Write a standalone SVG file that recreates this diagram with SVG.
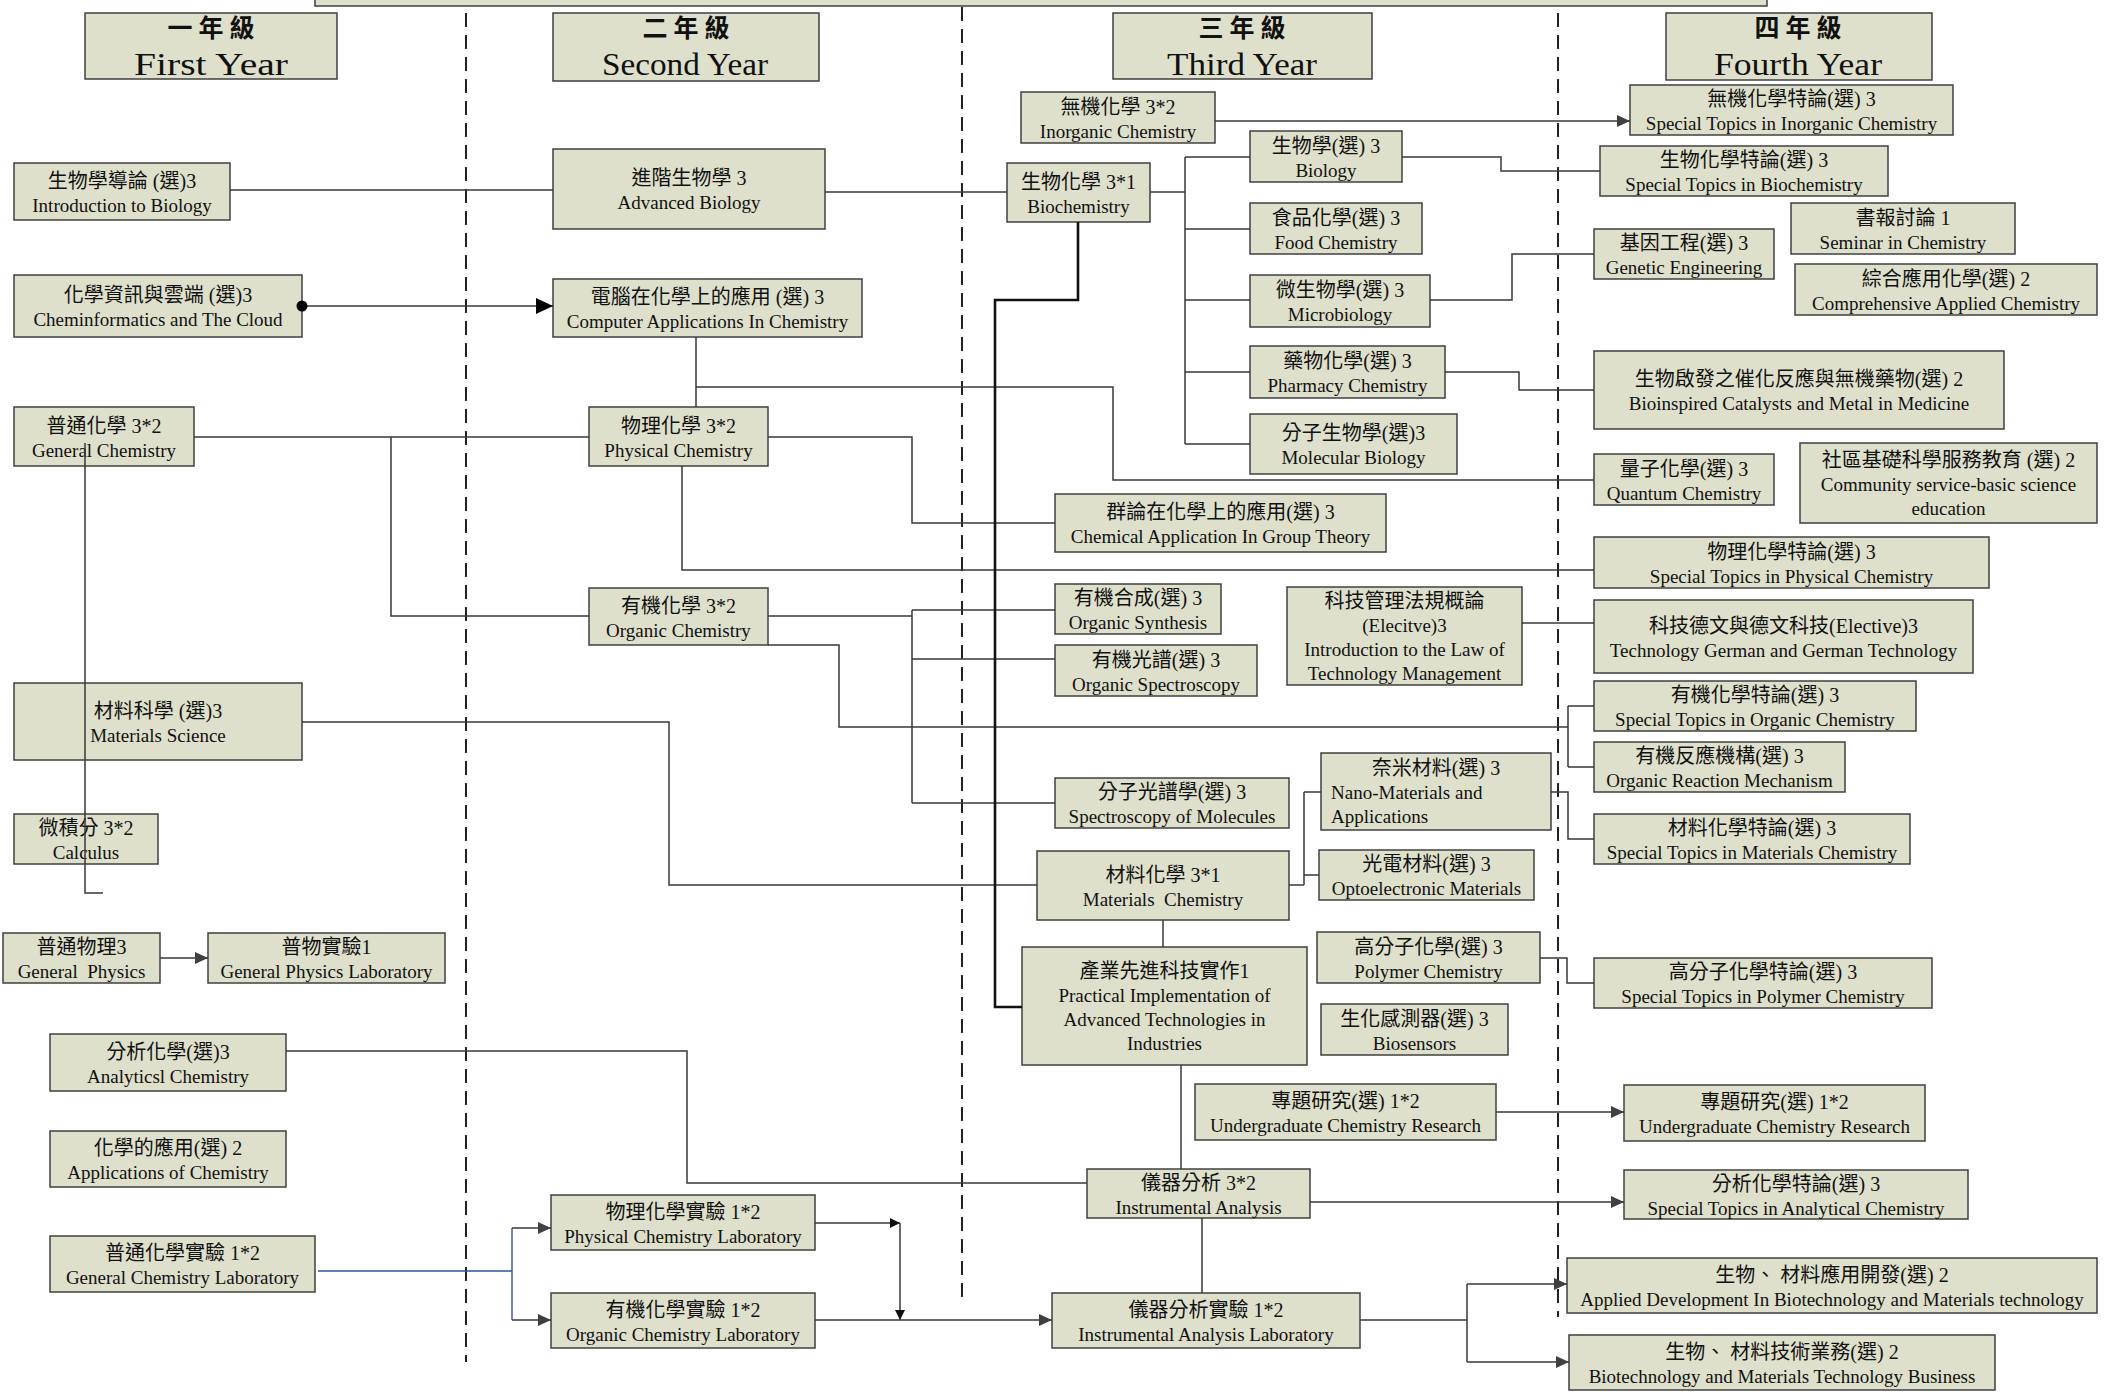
<svg xmlns="http://www.w3.org/2000/svg" width="2112" height="1399" viewBox="0 0 2112 1399">
<style>
.box{fill:#DEE0CC;stroke:#404040;stroke-width:1.5}
.c{font-family:"Liberation Serif","Noto Sans CJK TC",serif;font-size:20px;text-anchor:middle;fill:#111}
.e{font-family:"Liberation Serif","Noto Sans CJK TC",serif;font-size:19px;text-anchor:middle;fill:#111}
.el{font-family:"Liberation Serif",serif;font-size:19px;fill:#111}
.hc{font-family:"Noto Sans CJK TC",sans-serif;font-size:25px;font-weight:700;letter-spacing:6px;text-anchor:middle;fill:#111}
.he{font-family:"Liberation Serif",serif;font-size:32px;text-anchor:middle;fill:#111}
.w{stroke:#383838;stroke-width:1.5;fill:none}
.thick{stroke:#111;stroke-width:2.6;fill:none}
.blue{stroke:#2F5597;stroke-width:1.4;fill:none}
.dash{stroke:#222;stroke-width:2;stroke-dasharray:14 8;fill:none}
</style>
<defs>
<marker id="ah" markerUnits="userSpaceOnUse" markerWidth="14" markerHeight="12" refX="13" refY="6" orient="auto"><path d="M0,0 L13,6 L0,12 z" fill="#404040"/></marker>
<marker id="ahb" markerUnits="userSpaceOnUse" markerWidth="18" markerHeight="16" refX="17" refY="8" orient="auto"><path d="M0,0 L17,8 L0,16 z" fill="#000"/></marker>
<marker id="ahs" markerUnits="userSpaceOnUse" markerWidth="11" markerHeight="10" refX="10" refY="5" orient="auto"><path d="M0,0 L10,5 L0,10 z" fill="#111"/></marker>
<marker id="dot" markerUnits="userSpaceOnUse" markerWidth="12" markerHeight="12" refX="6" refY="6" orient="auto"><circle cx="6" cy="6" r="5.5" fill="#000"/></marker>
</defs>
<rect width="2112" height="1399" fill="#fff"/>
<rect class="box" x="315" y="-20" width="1452" height="26"/>
<g id="dividers">
<path class="dash" d="M466,13 V1362"/>
<path class="dash" d="M962,7 V1297"/>
<path class="dash" d="M1558,13 V1317"/>
</g>
<g id="nodes">
<g id="hdr1"><rect class="box" x="85" y="13" width="252" height="66"/><text class="hc" x="214" y="37">一年級</text><text class="he" x="211" y="75" textLength="154" lengthAdjust="spacingAndGlyphs">First Year</text></g>
<g id="hdr2"><rect class="box" x="553" y="13" width="266" height="68"/><text class="hc" x="689" y="37">二年級</text><text class="he" x="685" y="75" textLength="166" lengthAdjust="spacingAndGlyphs">Second Year</text></g>
<g id="hdr3"><rect class="box" x="1113" y="13" width="259" height="66"/><text class="hc" x="1245" y="37">三年級</text><text class="he" x="1242" y="75" textLength="150" lengthAdjust="spacingAndGlyphs">Third Year</text></g>
<g id="hdr4"><rect class="box" x="1666" y="13" width="266" height="67"/><text class="hc" x="1801" y="37">四年級</text><text class="he" x="1798" y="75" textLength="168" lengthAdjust="spacingAndGlyphs">Fourth Year</text></g>

<g id="introbio"><rect class="box" x="14" y="163" width="216" height="57"/><text class="c" x="122" y="187.5">生物學導論 (選)3</text><text class="e" x="122" y="211.5">Introduction to Biology</text></g>
<g id="cheminf"><rect class="box" x="14" y="275" width="288" height="62"/><text class="c" x="158" y="302">化學資訊與雲端 (選)3</text><text class="e" x="158" y="326">Cheminformatics and The Cloud</text></g>
<g id="genchem"><rect class="box" x="14" y="407" width="180" height="59"/><text class="c" x="104" y="432.5">普通化學 3*2</text><text class="e" x="104" y="456.5">General Chemistry</text></g>
<g id="matsci"><rect class="box" x="14" y="683" width="288" height="77"/><text class="c" x="158" y="717.5">材料科學 (選)3</text><text class="e" x="158" y="741.5">Materials Science</text></g>
<g id="calc"><rect class="box" x="14" y="814" width="144" height="50"/><text class="c" x="86" y="835">微積分 3*2</text><text class="e" x="86" y="859">Calculus</text></g>
<g id="genphys"><rect class="box" x="3" y="933" width="157" height="50"/><text class="c" x="81.5" y="954">普通物理3</text><text class="e" x="81.5" y="978">General&#160; Physics</text></g>
<g id="genphyslab"><rect class="box" x="208" y="933" width="237" height="50"/><text class="c" x="326.5" y="954">普物實驗1</text><text class="e" x="326.5" y="978">General Physics Laboratory</text></g>
<g id="anal"><rect class="box" x="50" y="1034" width="236" height="57"/><text class="c" x="168" y="1058.5">分析化學(選)3</text><text class="e" x="168" y="1082.5">Analyticsl Chemistry</text></g>
<g id="appchem"><rect class="box" x="50" y="1131" width="236" height="56"/><text class="c" x="168" y="1155">化學的應用(選) 2</text><text class="e" x="168" y="1179">Applications of Chemistry</text></g>
<g id="genchemlab"><rect class="box" x="50" y="1236" width="265" height="56"/><text class="c" x="182.5" y="1260">普通化學實驗 1*2</text><text class="e" x="182.5" y="1284">General Chemistry Laboratory</text></g>

<g id="advbio"><rect class="box" x="553" y="149" width="272" height="80"/><text class="c" x="689" y="185">進階生物學 3</text><text class="e" x="689" y="209">Advanced Biology</text></g>
<g id="compapp"><rect class="box" x="553" y="279" width="309" height="58"/><text class="c" x="707.5" y="304">電腦在化學上的應用 (選) 3</text><text class="e" x="707.5" y="328">Computer Applications In Chemistry</text></g>
<g id="physchem"><rect class="box" x="589" y="407" width="179" height="59"/><text class="c" x="678.5" y="432.5">物理化學 3*2</text><text class="e" x="678.5" y="456.5">Physical Chemistry</text></g>
<g id="orgchem"><rect class="box" x="589" y="588" width="179" height="57"/><text class="c" x="678.5" y="612.5">有機化學 3*2</text><text class="e" x="678.5" y="636.5">Organic Chemistry</text></g>
<g id="physlab"><rect class="box" x="551" y="1195" width="264" height="55"/><text class="c" x="683" y="1218.5">物理化學實驗 1*2</text><text class="e" x="683" y="1242.5">Physical Chemistry Laboratory</text></g>
<g id="orglab"><rect class="box" x="551" y="1293" width="264" height="55"/><text class="c" x="683" y="1316.5">有機化學實驗 1*2</text><text class="e" x="683" y="1340.5">Organic Chemistry Laboratory</text></g>

<g id="inorg"><rect class="box" x="1021" y="92" width="194" height="51"/><text class="c" x="1118" y="113.5">無機化學 3*2</text><text class="e" x="1118" y="137.5">Inorganic Chemistry</text></g>
<g id="biochem"><rect class="box" x="1007" y="163" width="143" height="59"/><text class="c" x="1078.5" y="188.5">生物化學 3*1</text><text class="e" x="1078.5" y="212.5">Biochemistry</text></g>
<g id="biology"><rect class="box" x="1250" y="131" width="152" height="51"/><text class="c" x="1326" y="152.5">生物學(選) 3</text><text class="e" x="1326" y="176.5">Biology</text></g>
<g id="food"><rect class="box" x="1250" y="203" width="172" height="51"/><text class="c" x="1336" y="224.5">食品化學(選) 3</text><text class="e" x="1336" y="248.5">Food Chemistry</text></g>
<g id="micro"><rect class="box" x="1250" y="275" width="180" height="52"/><text class="c" x="1340" y="297">微生物學(選) 3</text><text class="e" x="1340" y="321">Microbiology</text></g>
<g id="pharm"><rect class="box" x="1250" y="346" width="195" height="52"/><text class="c" x="1347.5" y="368">藥物化學(選) 3</text><text class="e" x="1347.5" y="392">Pharmacy Chemistry</text></g>
<g id="molbio"><rect class="box" x="1250" y="414" width="207" height="60"/><text class="c" x="1353.5" y="440">分子生物學(選)3</text><text class="e" x="1353.5" y="464">Molecular Biology</text></g>
<g id="group"><rect class="box" x="1055" y="494" width="331" height="58"/><text class="c" x="1220.5" y="519">群論在化學上的應用(選) 3</text><text class="e" x="1220.5" y="543">Chemical Application In Group Theory</text></g>
<g id="orgsyn"><rect class="box" x="1055" y="584" width="166" height="50"/><text class="c" x="1138" y="605">有機合成(選) 3</text><text class="e" x="1138" y="629">Organic Synthesis</text></g>
<g id="orgspec"><rect class="box" x="1055" y="645" width="202" height="51"/><text class="c" x="1156" y="666.5">有機光譜(選) 3</text><text class="e" x="1156" y="690.5">Organic Spectroscopy</text></g>
<g id="lawtech"><rect class="box" x="1287" y="587" width="235" height="98"/><text class="c" x="1404.5" y="608">科技管理法規概論</text><text class="e" x="1404.5" y="632">(Elecitve)3</text><text class="e" x="1404.5" y="656">Introduction to the Law of</text><text class="e" x="1404.5" y="680">Technology Management</text></g>
<g id="specmol"><rect class="box" x="1055" y="778" width="234" height="50"/><text class="c" x="1172" y="799">分子光譜學(選) 3</text><text class="e" x="1172" y="823">Spectroscopy of Molecules</text></g>
<g id="nano"><rect class="box" x="1321" y="753" width="230" height="77"/><text class="c" x="1436" y="775">奈米材料(選) 3</text><text class="el" x="1331" y="799">Nano-Materials and</text><text class="el" x="1331" y="823">Applications</text></g>
<g id="opto"><rect class="box" x="1319" y="850" width="215" height="50"/><text class="c" x="1426.5" y="871">光電材料(選) 3</text><text class="e" x="1426.5" y="895">Optoelectronic Materials</text></g>
<g id="matchem"><rect class="box" x="1037" y="851" width="252" height="69"/><text class="c" x="1163" y="881.5">材料化學 3*1</text><text class="e" x="1163" y="905.5">Materials&#160; Chemistry</text></g>
<g id="practical"><rect class="box" x="1022" y="947" width="285" height="118"/><text class="c" x="1164.5" y="978">產業先進科技實作1</text><text class="e" x="1164.5" y="1002">Practical Implementation of</text><text class="e" x="1164.5" y="1026">Advanced Technologies in</text><text class="e" x="1164.5" y="1050">Industries</text></g>
<g id="polymer"><rect class="box" x="1317" y="932" width="223" height="51"/><text class="c" x="1428.5" y="953.5">高分子化學(選) 3</text><text class="e" x="1428.5" y="977.5">Polymer Chemistry</text></g>
<g id="biosens"><rect class="box" x="1321" y="1004" width="187" height="51"/><text class="c" x="1414.5" y="1025.5">生化感測器(選) 3</text><text class="e" x="1414.5" y="1049.5">Biosensors</text></g>
<g id="ugr3"><rect class="box" x="1195" y="1084" width="301" height="56"/><text class="c" x="1345.5" y="1108">專題研究(選) 1*2</text><text class="e" x="1345.5" y="1132">Undergraduate Chemistry Research</text></g>
<g id="instr"><rect class="box" x="1087" y="1169" width="223" height="49"/><text class="c" x="1198.5" y="1189.5">儀器分析 3*2</text><text class="e" x="1198.5" y="1213.5">Instrumental Analysis</text></g>
<g id="instrlab"><rect class="box" x="1052" y="1293" width="308" height="55"/><text class="c" x="1206" y="1316.5">儀器分析實驗 1*2</text><text class="e" x="1206" y="1340.5">Instrumental Analysis Laboratory</text></g>

<g id="spinorg"><rect class="box" x="1630" y="85" width="323" height="50"/><text class="c" x="1791.5" y="106">無機化學特論(選) 3</text><text class="e" x="1791.5" y="130">Special Topics in Inorganic Chemistry</text></g>
<g id="spbio"><rect class="box" x="1600" y="146" width="288" height="50"/><text class="c" x="1744" y="167">生物化學特論(選) 3</text><text class="e" x="1744" y="191">Special Topics in Biochemistry</text></g>
<g id="seminar"><rect class="box" x="1791" y="203" width="224" height="51"/><text class="c" x="1903" y="224.5">書報討論 1</text><text class="e" x="1903" y="248.5">Seminar in Chemistry</text></g>
<g id="genetic"><rect class="box" x="1594" y="229" width="180" height="50"/><text class="c" x="1684" y="250">基因工程(選) 3</text><text class="e" x="1684" y="274">Genetic Engineering</text></g>
<g id="comp"><rect class="box" x="1795" y="264" width="302" height="51"/><text class="c" x="1946" y="285.5">綜合應用化學(選) 2</text><text class="e" x="1946" y="309.5">Comprehensive Applied Chemistry</text></g>
<g id="bioinsp"><rect class="box" x="1594" y="351" width="410" height="78"/><text class="c" x="1799" y="386">生物啟發之催化反應與無機藥物(選) 2</text><text class="e" x="1799" y="410">Bioinspired Catalysts and Metal in Medicine</text></g>
<g id="quantum"><rect class="box" x="1594" y="454" width="180" height="51"/><text class="c" x="1684" y="475.5">量子化學(選) 3</text><text class="e" x="1684" y="499.5">Quantum Chemistry</text></g>
<g id="community"><rect class="box" x="1800" y="443" width="297" height="80"/><text class="c" x="1948.5" y="467">社區基礎科學服務教育 (選) 2</text><text class="e" x="1948.5" y="491">Community service-basic science</text><text class="e" x="1948.5" y="515">education</text></g>
<g id="spphys"><rect class="box" x="1594" y="537" width="395" height="51"/><text class="c" x="1791.5" y="558.5">物理化學特論(選) 3</text><text class="e" x="1791.5" y="582.5">Special Topics in Physical Chemistry</text></g>
<g id="german"><rect class="box" x="1594" y="600" width="379" height="73"/><text class="c" x="1783.5" y="632.5">科技德文與德文科技(Elective)3</text><text class="e" x="1783.5" y="656.5">Technology German and German Technology</text></g>
<g id="sporg"><rect class="box" x="1594" y="681" width="322" height="50"/><text class="c" x="1755" y="702">有機化學特論(選) 3</text><text class="e" x="1755" y="726">Special Topics in Organic Chemistry</text></g>
<g id="orgmech"><rect class="box" x="1594" y="742" width="251" height="50"/><text class="c" x="1719.5" y="763">有機反應機構(選) 3</text><text class="e" x="1719.5" y="787">Organic Reaction Mechanism</text></g>
<g id="spmat"><rect class="box" x="1594" y="814" width="316" height="50"/><text class="c" x="1752" y="835">材料化學特論(選) 3</text><text class="e" x="1752" y="859">Special Topics in Materials Chemistry</text></g>
<g id="sppoly"><rect class="box" x="1594" y="958" width="338" height="50"/><text class="c" x="1763" y="979">高分子化學特論(選) 3</text><text class="e" x="1763" y="1003">Special Topics in Polymer Chemistry</text></g>
<g id="ugr4"><rect class="box" x="1624" y="1085" width="301" height="56"/><text class="c" x="1774.5" y="1109">專題研究(選) 1*2</text><text class="e" x="1774.5" y="1133">Undergraduate Chemistry Research</text></g>
<g id="spanal"><rect class="box" x="1624" y="1170" width="344" height="49"/><text class="c" x="1796" y="1190.5">分析化學特論(選) 3</text><text class="e" x="1796" y="1214.5">Special Topics in Analytical Chemistry</text></g>
<g id="appdev"><rect class="box" x="1567" y="1258" width="530" height="55"/><text class="c" x="1832" y="1281.5">生物、 材料應用開發(選) 2</text><text class="e" x="1832" y="1305.5">Applied Development In Biotechnology and Materials technology</text></g>
<g id="biobiz"><rect class="box" x="1569" y="1335" width="426" height="55"/><text class="c" x="1782" y="1358.5">生物、 材料技術業務(選) 2</text><text class="e" x="1782" y="1382.5">Biotechnology and Materials Technology Business</text></g>
</g>

<g id="connectors">
<path class="w" d="M230,190 H553"/>
<path class="w" d="M302,306 H553" marker-start="url(#dot)" marker-end="url(#ahb)"/>
<path class="w" d="M825,192 H1007"/>
<path class="w" d="M1215,121 H1630" marker-end="url(#ah)"/>
<path class="w" d="M1150,192 H1185 M1185,157 V444 M1185,157 H1250 M1185,229 H1250 M1185,300 H1250 M1185,372 H1250 M1185,444 H1250"/>
<path class="w" d="M1402,157 H1501 V171 H1600"/>
<path class="w" d="M1430,300 H1512 V254 H1594"/>
<path class="w" d="M1445,372 H1519 V390 H1594"/>
<path class="w" d="M696,337 V407 M696,387 H1113 V480 H1594"/>
<path class="w" d="M194,437 H589 M391,437 V616 H589"/>
<path class="w" d="M768,437 H912 V523 H1055"/>
<path class="w" d="M682,466 V570 H1594"/>
<path class="w" d="M768,616 H912 M912,610 V803 M912,610 H1055 M912,659 H1055 M912,803 H1055"/>
<path class="w" d="M768,645 H839 V727 H1568 M1568,706 V767 M1568,706 H1594 M1568,767 H1594"/>
<path class="w" d="M302,722 H669 V885 H1037"/>
<path class="w" d="M1289,885 H1304 M1304,792 V885 M1304,792 H1321 M1304,875 H1319"/>
<path class="w" d="M1551,792 H1568 V839 H1594"/>
<path class="w" d="M1163,920 V947"/>
<path class="thick" d="M1078,222 V300 H995 V1007 H1022"/>
<path class="w" d="M1522,623 H1594"/>
<path class="w" d="M1540,958 H1567 V983 H1594"/>
<path class="w" d="M1496,1112 H1624" marker-end="url(#ah)"/>
<path class="w" d="M286,1051 H687 V1183 H1087"/>
<path class="w" d="M1181,1065 V1169"/>
<path class="w" d="M1310,1202 H1624" marker-end="url(#ah)"/>
<path class="w" d="M1202,1218 V1293"/>
<path class="w" d="M1360,1320 H1467 M1467,1284 V1362"/>
<path class="w" d="M1467,1284 H1567" marker-end="url(#ah)"/>
<path class="w" d="M1467,1362 H1569" marker-end="url(#ah)"/>
<path class="w" d="M160,958 H208" marker-end="url(#ah)"/>
<path class="blue" d="M318,1271 H512 M512,1228 V1320"/>
<path class="w" d="M512,1228 H551" marker-end="url(#ah)"/>
<path class="w" d="M512,1320 H551" marker-end="url(#ah)"/>
<path class="w" d="M815,1223 H900" marker-end="url(#ahs)"/>
<path class="w" d="M900,1223 V1320" marker-end="url(#ahs)"/>
<path class="w" d="M815,1320 H1052" marker-end="url(#ah)"/>
<path class="w" d="M85,443 V893 H103"/>
</g>
</svg>
